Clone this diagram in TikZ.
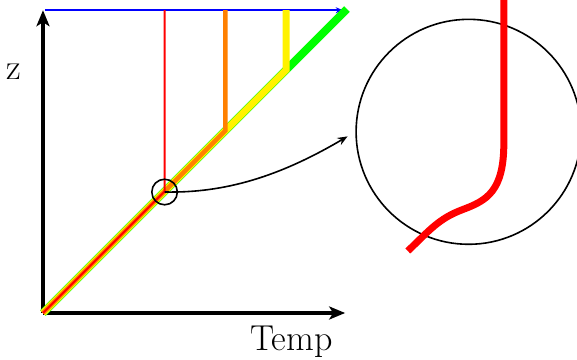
\documentclass[tikz,border=0pt]{standalone}
\usetikzlibrary{arrows.meta, positioning}
\begin{document}
\begin{tikzpicture}[x=60.8pt, y=60.8pt,
    axis/.style={line width=4pt, -{Stealth[length=16pt, width=13pt, inset=4pt]}},
    profile/.style={line width=#1, line cap=butt},
    lens/.style={circle, draw, line width=1.6pt, inner sep=0pt},
    lbl/.style={font=\fontsize{36}{40}\selectfont}
  ]
  \useasboundingbox (-0.707,-0.773) rectangle (8.783,5.148);
  \coordinate (O) at (0,0);
  \coordinate (ztop) at (0,4.98);
  \coordinate (tend) at (4.97,0);

  % axes
  \draw[axis] (O) -- (ztop);
  \draw[axis] (O) -- (tend);
  \node[lbl] (zlab) at (-0.48,3.97) {z};
  \node[lbl] (tlab) at (4.09,-0.47) {Temp};

  % top boundary
  \coordinate (bstart) at (0.03,4.98);
  \coordinate (bend) at (4.93,4.98);
  \draw[blue, line width=2pt, -{Stealth[length=7pt, width=6pt]}] (bstart) -- (bend);

  % profiles
  \draw[green, profile=8pt] (O) -- (5,5);
  \draw[yellow, profile=7pt] (O) -- (4,4) -- (4,4.98);
  \draw[orange, profile=4.5pt] (O) -- (3,3) -- (3,4.98);
  \draw[red, profile=2pt] (O) -- (2,2) -- (2,4.98);

  % zoom
  \node[lens, minimum size=0.42*60.8pt] (spot) at (2,1.99) {};
  \node[lens, minimum size=3.7*60.8pt] (big) at (7,2.98) {};
  \draw[line width=1.6pt, -{Stealth[length=10pt, width=8pt]}, shorten >=9pt]
    (spot.center) .. controls (3.0,1.97) and (3.9,2.25) .. (big.west);
  \draw[red, profile=7pt] (7.58,5.2) -- (7.58,2.8)
    .. controls (7.58,2.0) and (7.3,1.85) .. (6.9,1.7)
    .. controls (6.5,1.55) and (6.35,1.35) .. (6,1.02);
\end{tikzpicture}
\end{document}
